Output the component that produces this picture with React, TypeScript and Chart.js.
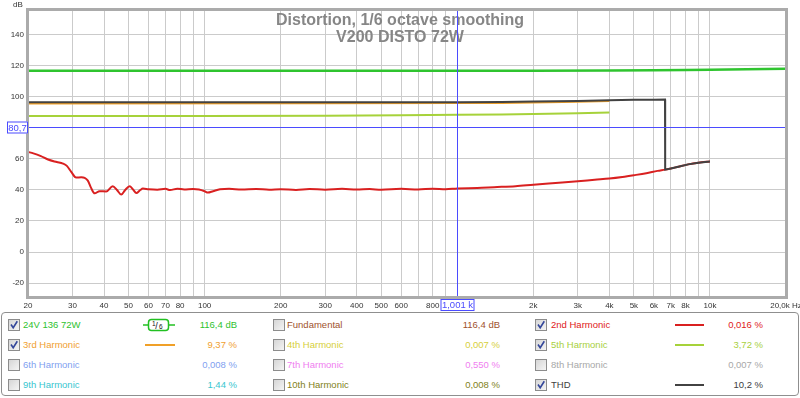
import React, { useEffect, useRef } from 'react';
import { Chart, registerables } from 'chart.js';
Chart.register(...registerables);

// ---------- data ----------
const fundFreq = [20, 200, 1000, 2000, 4000, 6000, 8000, 10000, 14000, 20000];
const fundDb = [116.8, 116.8, 116.8, 116.85, 117.0, 117.2, 117.4, 117.55, 117.8, 118.1];

const thdFreq = [20, 200, 500, 1000, 1500, 2000, 3000, 4000, 5000, 6000, 6640, 6650, 7000, 7500, 8200, 9000, 10000];
const thdDb = [96.6, 96.6, 96.6, 96.6, 96.7, 97.0, 97.4, 97.9, 98.1, 98.2, 98.3, 53.1, 53.8, 55.0, 56.5, 57.6, 58.4];

const h3Freq = [20, 300, 1000, 1500, 2000, 3000, 4000];
const h3Db = [95.8, 95.9, 96.0, 96.1, 96.4, 96.9, 97.3];

const h5Freq = [20, 100, 300, 600, 1000, 1500, 2000, 3000, 4000];
const h5Db = [87.6, 87.7, 87.9, 88.2, 88.5, 88.7, 89.0, 89.5, 90.0];

const h2Freq = [20, 21, 22.5, 24, 26, 27.5, 28.5, 29.7, 31, 32.5, 33.5, 34.5, 35.5, 36.7, 38.4, 40.8, 43.3, 45, 46.8, 48.5, 50.5, 52, 53.7, 55.5, 57, 60, 65, 70, 73, 78, 83, 90, 95, 100, 103, 108, 115, 125, 140, 160, 180, 200, 230, 260, 300, 350, 400, 450, 500, 600, 700, 800, 900, 1000, 1200, 1400, 1700, 2000, 2300, 2600, 3000, 3500, 4000, 4500, 5000, 5600, 6200, 6640, 7000, 7500, 8200, 9000, 10000];
const h2Db = [64.5, 63.6, 61.8, 59.6, 58.0, 57.0, 55.5, 51.5, 48.0, 48.2, 47.8, 46.0, 41.5, 37.8, 39.2, 39.0, 42.4, 40.0, 37.0, 40.0, 42.4, 40.5, 38.0, 39.8, 40.9, 40.5, 40.2, 40.7, 39.9, 40.8, 40.3, 40.6, 40.3, 39.2, 38.3, 39.2, 40.4, 40.7, 40.3, 40.6, 40.2, 40.5, 40.0, 40.6, 40.2, 40.7, 40.3, 40.6, 40.1, 40.7, 40.3, 40.8, 40.5, 41.0, 41.3, 41.8, 42.4, 43.4, 44.2, 44.8, 45.6, 46.6, 47.4, 48.4, 49.5, 50.8, 52.3, 53.1, 53.8, 55.0, 56.5, 57.6, 58.4];

const xGridTicks = [20, 30, 40, 50, 60, 70, 80, 90, 100, 200, 300, 400, 500, 600, 700, 800, 900, 1000, 2000, 3000, 4000, 5000, 6000, 7000, 8000, 9000, 10000, 20000];
const xTickLabels = ['20', '30', '40', '50', '60', '70', '80', '', '100', '200', '300', '400', '500', '600', '', '800', '', '', '2k', '3k', '4k', '5k', '6k', '7k', '8k', '', '10k', '20,0k Hz'];
const yTicks = [-20, 0, 20, 40, 60, 80, 100, 120, 140];

const cursorFreq = 1001;
const cursorDb = 80.7;
const cursorFreqLabel = '1,001 k';
const cursorDbLabel = '80,7';
const titleLines = ['Distortion, 1/6 octave smoothing', 'V200 DISTO 72W'];
const yUnit = 'dB';

const legendNames = ['24V 136 72W', 'Fundamental', '2nd Harmonic', '3rd Harmonic', '4th Harmonic', '5th Harmonic', '6th Harmonic', '7th Harmonic', '8th Harmonic', '9th Harmonic', '10th Harmonic', 'THD'];
const legendValues = ['116,4 dB', '116,4 dB', '0,016 %', '9,37 %', '0,007 %', '3,72 %', '0,008 %', '0,550 %', '0,007 %', '1,44 %', '0,008 %', '10,2 %'];
const legendChecked = [true, false, true, true, false, true, false, false, false, false, false, true];
const legendSample = ['smooth', 'none', 'line', 'line', 'none', 'line', 'none', 'none', 'none', 'none', 'none', 'line'];

// ---------- styles ----------
const COL = {
  fund: '#2fc42f',
  h2: '#d92020',
  h3: '#f0a028',
  h5: '#a6d23a',
  thd: '#424242',
  cursor: '#4b4bff',
};
const legendColors = ['#2ec22e', '#a0522d', '#e02020', '#f0a030', '#d6cf3a', '#a8d040', '#7f9ff0', '#f07ef0', '#a8a8a8', '#38c6d0', '#7f7f20', '#404040'];
const lineColors = [COL.fund, '', COL.h2, COL.h3, '', COL.h5, '', '', '', '', '', COL.thd];
const cols = [
  { box: 8, label: 23, lineL: 145, lineR: 175, valRight: 237 },
  { box: 273, label: 287, lineL: 0, lineR: 0, valRight: 500 },
  { box: 535, label: 551, lineL: 675, lineR: 704, valRight: 763 },
];
const rowY = [324.5, 344.5, 365, 385];
const FONT = '"Liberation Sans", Arial, sans-serif';

const mk = (f: number[], v: number[]) => f.map((x, i) => ({ x, y: v[i] }));

export default function App() {
  const ref = useRef<HTMLCanvasElement>(null);

  useEffect(() => {
    const canvas = ref.current!;
    const overlay = {
      id: 'overlay',
      beforeDatasetsDraw(chart: any) {
        const { ctx } = chart;
        ctx.save();
        ctx.fillStyle = '#868686';
        ctx.font = `bold 16px ${FONT}`;
        ctx.textAlign = 'center';
        ctx.textBaseline = 'alphabetic';
        ctx.fillText(titleLines[0], 400, 25);
        ctx.fillText(titleLines[1], 400, 41.5);
        ctx.restore();
      },
      afterDatasetsDraw(chart: any) {
        const { ctx, chartArea: a, scales } = chart;
        const cx = Math.round(scales.x.getPixelForValue(cursorFreq)) + 0.5;
        const cy = Math.round(scales.y.getPixelForValue(cursorDb)) + 0.5;
        ctx.save();
        ctx.strokeStyle = COL.cursor;
        ctx.lineWidth = 1;
        ctx.beginPath();
        ctx.moveTo(a.left, cy);
        ctx.lineTo(a.right, cy);
        ctx.moveTo(cx, a.top);
        ctx.lineTo(cx, a.bottom + 2);
        ctx.stroke();
        // frame
        ctx.strokeStyle = '#ababab';
        ctx.lineWidth = 3;
        ctx.strokeRect(a.left - 0.5, a.top - 0.5, a.right - a.left + 1, a.bottom - a.top + 1);
        // cursor labels
        ctx.font = `9.5px ${FONT}`;
        ctx.textAlign = 'center';
        ctx.textBaseline = 'middle';
        ctx.lineWidth = 1;
        ctx.strokeStyle = COL.cursor;
        ctx.fillStyle = '#ffffff';
        ctx.fillRect(7, cy - 6, 21, 12);
        ctx.strokeRect(7.5, cy - 5.5, 20, 11);
        ctx.fillRect(cx - 17, 299, 34, 12);
        ctx.strokeRect(cx - 16.5, 299.5, 33, 11);
        ctx.fillStyle = COL.cursor;
        ctx.fillText(cursorDbLabel, 17.5, cy + 0.5);
        ctx.fillText(cursorFreqLabel, cx, 305.5);
        // unit
        ctx.fillStyle = '#333';
        ctx.font = `8px ${FONT}`;
        ctx.fillText(yUnit, 18, 5);
        ctx.restore();
      },
    };

    const ds = (label: string, f: number[], v: number[], color: string, extra: any = {}) => ({
      label,
      data: mk(f, v),
      borderColor: color,
      backgroundColor: color,
      borderWidth: 2,
      pointRadius: 0,
      fill: false,
      tension: 0,
      ...extra,
    });

    const chart = new Chart(canvas, {
      type: 'line',
      data: {
        datasets: [
          ds('THD', thdFreq, thdDb, COL.thd),
          ds('2nd Harmonic', h2Freq, h2Db, COL.h2, { cubicInterpolationMode: 'monotone' }),
          ds('3rd Harmonic', h3Freq, h3Db, COL.h3),
          ds('5th Harmonic', h5Freq, h5Db, COL.h5),
          ds('24V 136 72W', fundFreq, fundDb, COL.fund, { borderWidth: 2.5 }),
        ],
      },
      options: {
        animation: false,
        responsive: false,
        maintainAspectRatio: false,
        devicePixelRatio: 1,
        layout: { padding: { top: 10, right: 14, bottom: 0, left: 0 } },
        plugins: { legend: { display: false }, tooltip: { enabled: false }, title: { display: false } },
        scales: {
          x: {
            type: 'logarithmic',
            min: 20,
            max: 20000,
            afterBuildTicks: (s: any) => {
              s.ticks = xGridTicks.map((v) => ({ value: v }));
            },
            afterFit: (s: any) => {
              s.height = 15;
              s.paddingLeft = 0;
              s.paddingRight = 0;
            },
            ticks: {
              autoSkip: false,
              maxRotation: 0,
              minRotation: 0,
              padding: 4,
              color: '#333',
              font: { size: 8, family: FONT },
              callback: (_v: any, i: number) => xTickLabels[i],
            },
            grid: { color: '#cbcbcb', drawTicks: false },
            border: { display: false },
          },
          y: {
            type: 'linear',
            min: -29,
            max: 156,
            afterBuildTicks: (s: any) => {
              s.ticks = yTicks.map((v) => ({ value: v }));
            },
            afterFit: (s: any) => {
              s.width = 28;
              s.paddingTop = 0;
              s.paddingBottom = 0;
            },
            ticks: {
              padding: 4,
              color: '#333',
              font: { size: 8, family: FONT },
              callback: (v: any) => String(v),
            },
            grid: { color: '#cbcbcb', drawTicks: false },
            border: { display: false },
          },
        },
      },
      plugins: [overlay],
    } as any);
    return () => chart.destroy();
  }, []);

  return (
    <div style={{ position: 'relative', width: 800, height: 398, fontFamily: FONT, background: '#fff', overflow: 'hidden' }}>
      <style>{`body{margin:0;background:#fff}`}</style>
      <canvas ref={ref} width={800} height={312} style={{ position: 'absolute', left: 0, top: 0, width: 800, height: 312 }} />
      <div
        style={{
          position: 'absolute',
          left: 1,
          top: 312,
          width: 798,
          height: 84,
          boxSizing: 'border-box',
          border: '1px solid #8f8f8f',
          borderRadius: 4,
        }}
      />
      {legendNames.map((name, i) => {
        const c = cols[i % 3];
        const y = rowY[Math.floor(i / 3)];
        const color = legendColors[i];
        return (
          <React.Fragment key={i}>
            <svg width={12} height={12} style={{ position: 'absolute', left: c.box, top: y - 6 }}>
              <defs>
                <linearGradient id={`g${i}`} x1="0" y1="0" x2="1" y2="1">
                  <stop offset="0" stopColor="#d4d4d4" />
                  <stop offset="1" stopColor="#f6f6f6" />
                </linearGradient>
              </defs>
              <rect x={0.5} y={0.5} width={11} height={11} fill={`url(#g${i})`} stroke="#8c8c8c" />
              {legendChecked[i] && <path d="M3 5.5 L5.2 8.8 L9.3 2.3" stroke="#34479a" strokeWidth={1.6} fill="none" />}
            </svg>
            <span
              style={{ position: 'absolute', left: c.label, top: y - 7, height: 14, lineHeight: '14px', fontSize: 9.5, color, whiteSpace: 'nowrap' }}
            >
              {name}
            </span>
            <span
              style={{ position: 'absolute', right: 800 - c.valRight, top: y - 7, height: 14, lineHeight: '14px', fontSize: 9.5, color, whiteSpace: 'nowrap', textAlign: 'right' }}
            >
              {legendValues[i]}
            </span>
            {legendSample[i] === 'line' && (
              <div style={{ position: 'absolute', left: c.lineL, top: y - 1, width: c.lineR - c.lineL, height: 2, background: lineColors[i] }} />
            )}
            {legendSample[i] === 'smooth' && (
              <svg width={34} height={14} style={{ position: 'absolute', left: 143, top: y - 7 }}>
                <line x1={0} y1={7} x2={6} y2={7} stroke="#22c022" strokeWidth={1.5} />
                <line x1={25} y1={7} x2={32} y2={7} stroke="#22c022" strokeWidth={1.5} />
                <rect x={5.5} y={1.5} width={20} height={11} rx={3} fill="#fff" stroke="#22c022" strokeWidth={1.5} />
                <text x={9} y={8} fontSize={6.5} fill="#111" fontFamily={FONT}>1</text>
                <text x={12.3} y={10.5} fontSize={9} fill="#111" fontFamily={FONT}>/</text>
                <text x={16} y={11.3} fontSize={6.5} fill="#111" fontFamily={FONT}>6</text>
              </svg>
            )}
          </React.Fragment>
        );
      })}
    </div>
  );
}
